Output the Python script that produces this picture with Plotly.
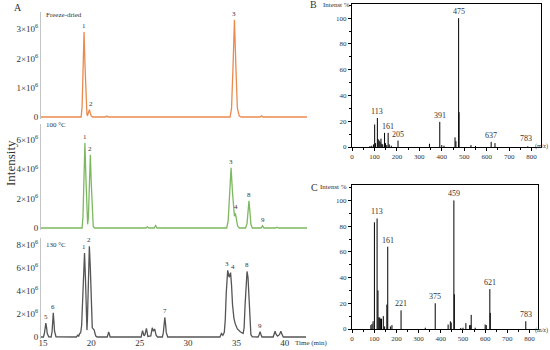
import plotly.graph_objects as go

W, H = 550, 350
SERIF = "Liberation Serif, Times New Roman, serif"

# ---------------- Chromatograms (intensity in 10^6 counts, time in min) --------------
fd_time = [14.8,
           18.95, 19.05, 19.15, 19.25, 19.35, 19.45, 19.55,
           19.62, 19.7, 19.8, 19.9, 20.0, 20.15,
           21.45, 21.6, 21.75,
           34.35, 34.5, 34.65, 34.8, 34.95, 35.1, 35.3, 35.5,
           37.45, 37.6, 37.75,
           42.3]
fd_int = [0.0,
          0.0, 0.35, 1.75, 2.9, 1.75, 0.4, 0.08,
          0.06, 0.15, 0.25, 0.13, 0.03, 0.0,
          0.0, 0.03, 0.0,
          0.0, 0.3, 1.7, 3.32, 1.7, 0.3, 0.03, 0.0,
          0.0, 0.04, 0.0,
          0.0]

c100_time = [14.8,
             19.05, 19.14, 19.24, 19.34, 19.44, 19.54, 19.62,
             19.7, 19.8, 19.9, 20.0, 20.1, 20.2, 20.35,
             25.65, 25.8, 25.95,
             26.5, 26.65, 26.8,
             34.0, 34.15, 34.3, 34.45, 34.6, 34.72,
             34.8, 34.9, 35.0, 35.12, 35.3,
             35.95, 36.1, 36.2, 36.3, 36.4, 36.5, 36.65,
             37.55, 37.7, 37.85,
             39.05, 39.2, 39.35,
             39.65, 39.8, 39.95,
             42.3]
c100_int = [0.0,
            0.0, 0.8, 3.5, 5.8, 3.5, 0.8, 0.25,
            0.7, 3.0, 5.0, 3.0, 0.7, 0.1, 0.0,
            0.0, 0.08, 0.0,
            0.0, 0.17, 0.0,
            0.0, 0.5, 2.4, 4.1, 2.4, 1.0,
            0.8, 1.0, 0.6, 0.15, 0.0,
            0.0, 0.3, 1.1, 1.85, 1.1, 0.25, 0.0,
            0.0, 0.15, 0.0,
            0.0, 0.05, 0.0,
            0.0, 0.04, 0.0,
            0.0]

c130_time = [14.8,
             15.05, 15.15, 15.22, 15.3, 15.38, 15.45, 15.6,
             15.85, 15.95, 16.0, 16.07, 16.14, 16.2, 16.35,
             18.45, 18.6, 18.7, 18.8, 18.9,
             19.0, 19.1, 19.2, 19.3, 19.4, 19.5, 19.55,
             19.6, 19.7, 19.8, 19.9, 20.0, 20.1, 20.2, 20.3, 20.45, 20.6,
             21.65, 21.8, 21.95,
             25.15, 25.3, 25.45, 25.55, 25.7, 25.85, 26.15, 26.3, 26.42, 26.55, 26.7, 26.85,
             27.35, 27.45, 27.53, 27.6, 27.67, 27.75, 27.9,
             33.3, 33.45, 33.6, 33.75,
             33.85, 33.95, 34.05, 34.1, 34.25, 34.4, 34.5, 34.6, 34.75, 34.9, 35.1, 35.4, 35.7,
             35.8, 35.9, 36.0, 36.1, 36.2, 36.3, 36.4, 36.5, 36.65,
             37.25, 37.35, 37.45, 37.55, 37.65,
             38.8, 38.9, 39.0, 39.1, 39.25, 39.45, 39.6, 39.7, 39.85,
             42.2]
c130_int = [0.0,
            0.0, 0.3, 0.8, 1.2, 0.8, 0.3, 0.02,
            0.0, 0.5, 1.3, 2.1, 1.3, 0.5, 0.02,
            0.0, 0.15, 0.08, 0.3, 0.35,
            1.0, 3.5, 6.4, 7.3, 5.0, 1.5, 0.6,
            1.5, 5.8, 7.9, 6.0, 2.2, 0.8, 0.7, 0.6, 0.1, 0.0,
            0.0, 0.45, 0.0,
            0.0, 0.55, 0.1, 0.2, 0.75, 0.05, 0.1, 0.8, 0.5, 0.7, 0.15, 0.0,
            0.0, 0.4, 1.2, 1.7, 1.2, 0.4, 0.0,
            0.0, 0.3, 0.15, 0.4,
            1.5, 3.8, 5.6, 5.8, 5.2, 5.6, 4.5, 2.8, 1.6, 1.1, 0.7, 0.45, 0.3,
            0.8, 2.8, 5.0, 5.7, 5.2, 3.0, 0.9, 0.2, 0.02,
            0.0, 0.2, 0.45, 0.2, 0.0,
            0.0, 0.25, 0.5, 0.25, 0.08, 0.2, 0.5, 0.25, 0.0,
            0.0]

# peak labels: (id, retention time, apex intensity)
fd_peaks_id = ["1", "2", "3"]
fd_peaks_rt = [19.2, 19.95, 34.8]
fd_peaks_h = [2.9, 0.25, 3.32]

c100_peaks_id = ["1", "2", "3", "4", "8", "9"]
c100_peaks_rt = [19.34, 19.9, 34.45, 34.95, 36.3, 37.7]
c100_peaks_h = [5.8, 5.0, 4.1, 1.0, 1.85, 0.15]

c130_peaks_id = ["5", "6", "1", "2", "7", "3", "4", "8", "9"]
c130_peaks_rt = [15.35, 16.07, 19.2, 19.8, 27.6, 34.0, 34.65, 36.1, 37.45]
c130_peaks_h = [1.2, 2.1, 7.3, 7.9, 1.7, 5.8, 5.6, 5.7, 0.45]

fd_ticks = [0, 1, 2, 3]
c100_ticks = [0, 2, 4, 6]
c130_ticks = [0, 2, 4, 6, 8]
time_ticks = [15, 20, 25, 30, 35, 40]

# ---------------- Mass spectra (relative intensity %) ----------------
B_mz = [80, 88, 96, 101, 105, 113, 117, 121, 125, 129, 133, 137, 145, 149, 155, 161, 166, 175,
        205, 345, 391, 400, 410, 459, 463, 475, 477, 530, 550, 620, 637, 783]
B_int = [0.8, 1.0, 2.0, 17.5, 3.0, 22.5, 6.0, 5.0, 4.0, 6.5, 2.5, 2.0, 11.0, 3.0, 1.5, 11.0, 2.0, 1.0,
         5.0, 2.5, 19.5, 1.5, 1.0, 7.5, 4.5, 100.0, 27.0, 1.5, 0.8, 4.0, 3.0, 0.5]
B_labels = ["113", "161", "205", "391", "475", "637", "783"]
B_label_mz = [113, 161, 205, 391, 475, 620, 775]
B_label_int = [22.5, 11.0, 5.0, 19.5, 100.0, 4.0, 1.5]

C_mz = [85, 90, 95, 101, 113, 117, 121, 125, 129, 133, 141, 147, 157, 161, 173, 180, 221,
        330, 375, 433, 443, 447, 459, 461, 490, 500, 513, 530, 535, 537, 555, 600, 605, 621, 623, 783]
C_int = [3.0, 4.0, 6.0, 83.0, 86.0, 30.0, 9.0, 9.0, 8.0, 8.0, 10.0, 2.0, 19.0, 64.0, 2.0, 3.0, 14.5,
         1.0, 20.0, 3.5, 6.0, 5.0, 100.0, 27.0, 0.8, 1.0, 4.5, 3.0, 3.0, 11.0, 1.0, 3.5, 3.0, 31.0, 12.5, 6.0]
C_labels = ["113", "161", "221", "375", "459", "621", "783"]
C_label_mz = [113, 161, 221, 375, 459, 621, 783]
C_label_int = [86.0, 64.0, 14.5, 20.0, 100.0, 31.0, 6.0]

ms_xticks = [0, 100, 200, 300, 400, 500, 600, 700, 800]
ms_yticks = [0, 20, 40, 60, 80, 100]

# ---------------- layout helpers ----------------
def dom_x(a, b):
    return [a / W, b / W]

def dom_y(top, bottom):
    return [1 - bottom / H, 1 - top / H]

def sci(v):
    return "0" if v == 0 else f"{v}×10<sup>6</sup>"

fig = go.Figure()

ORANGE = "#EB8A4E"
GREEN = "#7DB860"
GREY = "#555555"
TXT = "#333333"

fig.add_trace(go.Scatter(x=fd_time, y=fd_int, mode="lines", line=dict(color=ORANGE, width=1.3),
                         xaxis="x", yaxis="y"))
fig.add_trace(go.Scatter(x=c100_time, y=c100_int, mode="lines", line=dict(color=GREEN, width=1.3),
                         xaxis="x2", yaxis="y2"))
fig.add_trace(go.Scatter(x=c130_time, y=c130_int, mode="lines", line=dict(color=GREY, width=1.3),
                         xaxis="x3", yaxis="y3"))

def sticks(mz, inten):
    xs, ys = [], []
    for m, v in zip(mz, inten):
        xs += [m, m, None]
        ys += [0, v, None]
    return xs, ys

bx, by = sticks(B_mz, B_int)
fig.add_trace(go.Scatter(x=bx, y=by, mode="lines", line=dict(color="black", width=1),
                         xaxis="x4", yaxis="y4"))
cx, cy = sticks(C_mz, C_int)
fig.add_trace(go.Scatter(x=cx, y=cy, mode="lines", line=dict(color="black", width=1),
                         xaxis="x5", yaxis="y5"))

chrom_x = dict(range=[14.8, 42.3], domain=dom_x(41, 307), showgrid=False, zeroline=False,
               showline=False, ticks="", automargin=False)
chrom_y = dict(showgrid=False, zeroline=False, showline=True, linecolor="#c4c4c4", linewidth=1,
               ticks="", automargin=False, tickfont=dict(family=SERIF, size=9, color=TXT))

ms_x = dict(showgrid=False, zeroline=False, showline=True, mirror=True, linecolor="black", linewidth=1,
            ticks="outside", ticklen=3, tickwidth=1, tickcolor="black", tickvals=ms_xticks,
            automargin=False, tickfont=dict(family=SERIF, size=7, color=TXT),
            minor=dict(ticks="outside", ticklen=2, dtick=50, tickcolor="black"))
ms_y = dict(showgrid=False, zeroline=False, showline=True, mirror=True, linecolor="black", linewidth=1,
            ticks="outside", ticklen=3, tickwidth=1, tickcolor="black", tickvals=ms_yticks,
            automargin=False, tickfont=dict(family=SERIF, size=7, color=TXT),
            minor=dict(ticks="outside", ticklen=2, dtick=10, tickcolor="black"))

fig.update_layout(
    template="none",
    width=W, height=H, margin=dict(l=0, r=0, t=0, b=0, pad=0),
    paper_bgcolor="white", plot_bgcolor="rgba(0,0,0,0)", showlegend=False,
    font=dict(family=SERIF, color=TXT),
    xaxis=dict(chrom_x, anchor="y", showticklabels=False),
    xaxis2=dict(chrom_x, anchor="y2", showticklabels=False),
    xaxis3=dict(chrom_x, anchor="free", position=1 - 336 / H, showticklabels=True, tickvals=time_ticks,
                tickfont=dict(family=SERIF, size=9, color=TXT)),
    yaxis=dict(chrom_y, anchor="x", domain=dom_y(12, 119), range=[-0.068, 3.584],
               tickvals=fd_ticks, ticktext=[sci(v) for v in fd_ticks]),
    yaxis2=dict(chrom_y, anchor="x2", domain=dom_y(124, 230), range=[-0.136, 7.09],
                tickvals=c100_ticks, ticktext=[sci(v) for v in c100_ticks]),
    yaxis3=dict(chrom_y, anchor="x3", domain=dom_y(238, 339), range=[-0.174, 8.61],
                tickvals=c130_ticks, ticktext=[sci(v) for v in c130_ticks]),
    xaxis4=dict(ms_x, anchor="y4", domain=dom_x(352, 541), range=[0, 842]),
    yaxis4=dict(ms_y, anchor="x4", domain=dom_y(4, 147), range=[0, 111]),
    xaxis5=dict(ms_x, anchor="y5", domain=dom_x(352, 538), range=[0, 838]),
    yaxis5=dict(ms_y, anchor="x5", domain=dom_y(185, 329), range=[0, 112]),
)

ann = []

def peak_labels(ids, rts, hs, xr, yr, size=7):
    for i, t, h in zip(ids, rts, hs):
        ann.append(dict(x=t, y=h, xref=xr, yref=yr, text=i, showarrow=False, yanchor="bottom",
                        yshift=0, font=dict(family=SERIF, size=size, color=TXT)))

peak_labels(fd_peaks_id, fd_peaks_rt, fd_peaks_h, "x", "y")
peak_labels(c100_peaks_id, c100_peaks_rt, c100_peaks_h, "x2", "y2")
peak_labels(c130_peaks_id, c130_peaks_rt, c130_peaks_h, "x3", "y3")
peak_labels(B_labels, B_label_mz, B_label_int, "x4", "y4", size=8)
peak_labels(C_labels, C_label_mz, C_label_int, "x5", "y5", size=8)

def txt(px, py, text, size, xanchor="left", angle=0):
    ann.append(dict(x=px / W, y=1 - py / H, xref="paper", yref="paper", text=text, showarrow=False,
                    xanchor=xanchor, yanchor="middle", textangle=angle,
                    font=dict(family=SERIF, size=size, color=TXT)))

txt(12, 7, "A", 10)
txt(44, 15, "Freeze-dried", 7)
txt(44, 125, "100 °C", 7)
txt(44, 245, "130 °C", 7)
txt(10, 163, "Intensity", 13, xanchor="center", angle=-90)
txt(293, 343, "Time (min)", 7)
txt(308, 5, "B", 10)
txt(321, 5, "Intenst %", 7)
txt(309, 187, "C", 10)
txt(318, 187, "Intenst %", 7)
txt(550, 147, "(m/z)", 6, xanchor="right")
txt(550, 330, "(m/z)", 6, xanchor="right")

fig.update_layout(annotations=ann)

fig.write_html("out.html", config={"displayModeBar": False},
               post_script="document.body.style.margin='0';document.body.style.padding='0';")
